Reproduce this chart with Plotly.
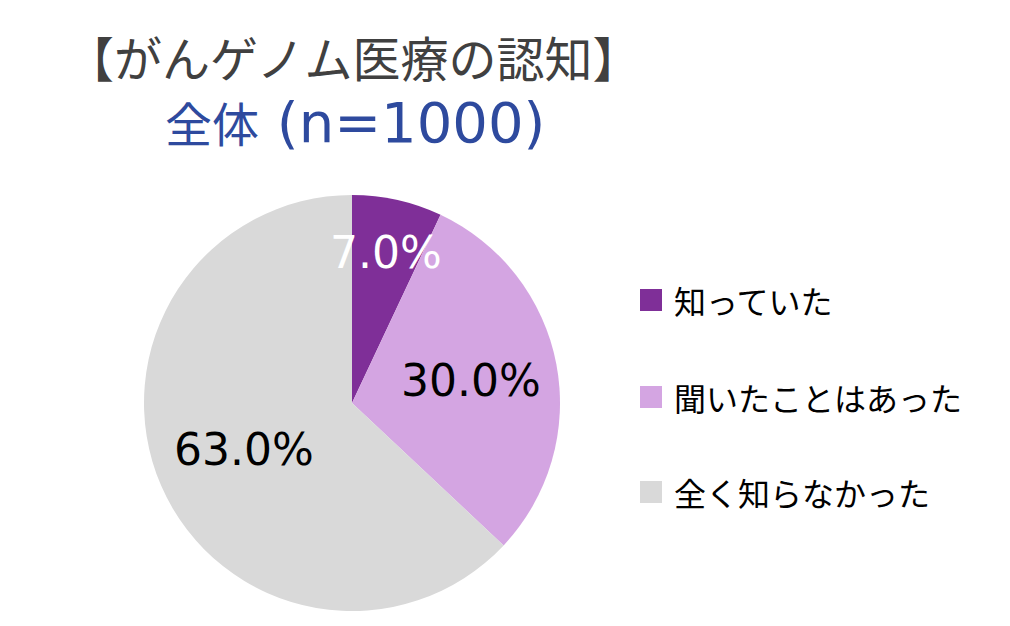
import math
import plotly.graph_objects as go

categories = ["知っていた", "聞いたことはあった", "全く知らなかった"]
values = [7.0, 30.0, 63.0]
colors = ["#7F2F98", "#D4A5E2", "#D9D9D9"]
text_colors = ["#FFFFFF", "#000000", "#000000"]
label_radius = [0.74, 0.58, 0.565]   # label distance from centre, fraction of radius
title_line1 = "【がんゲノム医療の認知】"
title_line2_cjk = "全体"
title_line2_latin = " (n=1000)"

W, H = 1010, 626
LFONT = "DejaVu Sans, Noto Sans CJK JP, sans-serif"
JFONT = "Noto Sans CJK JP, sans-serif"

def px(x):
    return x / W

def py(y):
    return 1 - y / H

# pie geometry (figure pixel coords, top-left origin)
cx, cy, R = 344, 395, 208

fig = go.Figure()
fig.add_trace(go.Pie(
    labels=categories,
    values=values,
    marker=dict(colors=colors, line=dict(width=0)),
    sort=False,
    direction="clockwise",
    rotation=0,
    textinfo="none",
    showlegend=False,
    domain=dict(x=[px(cx - R), px(cx + R)], y=[py(cy + R), py(cy - R)]),
    hoverinfo="label+percent",
))

annotations = [
    dict(x=px(345), y=py(48), xref="paper", yref="paper", text=title_line1,
         showarrow=False, font=dict(family=JFONT, size=48, color="#404040"),
         xanchor="center", yanchor="middle"),
    dict(x=px(347), y=py(113), xref="paper", yref="paper",
         text=f"<span style='font-family:Noto Sans CJK JP;font-size:47px'>{title_line2_cjk}</span>"
              f"<span style='font-family:DejaVu Sans;font-size:56px'>{title_line2_latin}</span>",
         showarrow=False, font=dict(family=LFONT, size=56, color="#2E4A9E"),
         xanchor="center", yanchor="middle"),
]

# percentage labels placed at each slice's mid-angle
total = sum(values)
cum = 0.0
for v, tc, rf in zip(values, text_colors, label_radius):
    mid = (cum + v / 2) / total * 2 * math.pi
    cum += v
    lx = cx + rf * R * math.sin(mid)
    ly = cy - rf * R * math.cos(mid)
    annotations.append(dict(x=px(lx), y=py(ly), xref="paper", yref="paper",
                            text=f"{v:.1f}%", showarrow=False,
                            font=dict(family=LFONT, size=44, color=tc),
                            xanchor="center", yanchor="middle"))

shapes = []
legend_y = [292, 389, 484]
for cat, col, ly in zip(categories, colors, legend_y):
    shapes.append(dict(type="rect", xref="paper", yref="paper",
                       x0=px(632), x1=px(654), y0=py(ly + 11), y1=py(ly - 11),
                       fillcolor=col, line=dict(width=0)))
    annotations.append(dict(x=px(664), y=py(ly), xref="paper", yref="paper", text=cat,
                            showarrow=False, font=dict(family=JFONT, size=32, color="#000000"),
                            xanchor="left", yanchor="middle"))

fig.update_layout(
    width=W, height=H,
    margin=dict(l=0, r=0, t=0, b=0),
    paper_bgcolor="white",
    plot_bgcolor="white",
    annotations=annotations,
    shapes=shapes,
)

fig.write_html("out.html")
